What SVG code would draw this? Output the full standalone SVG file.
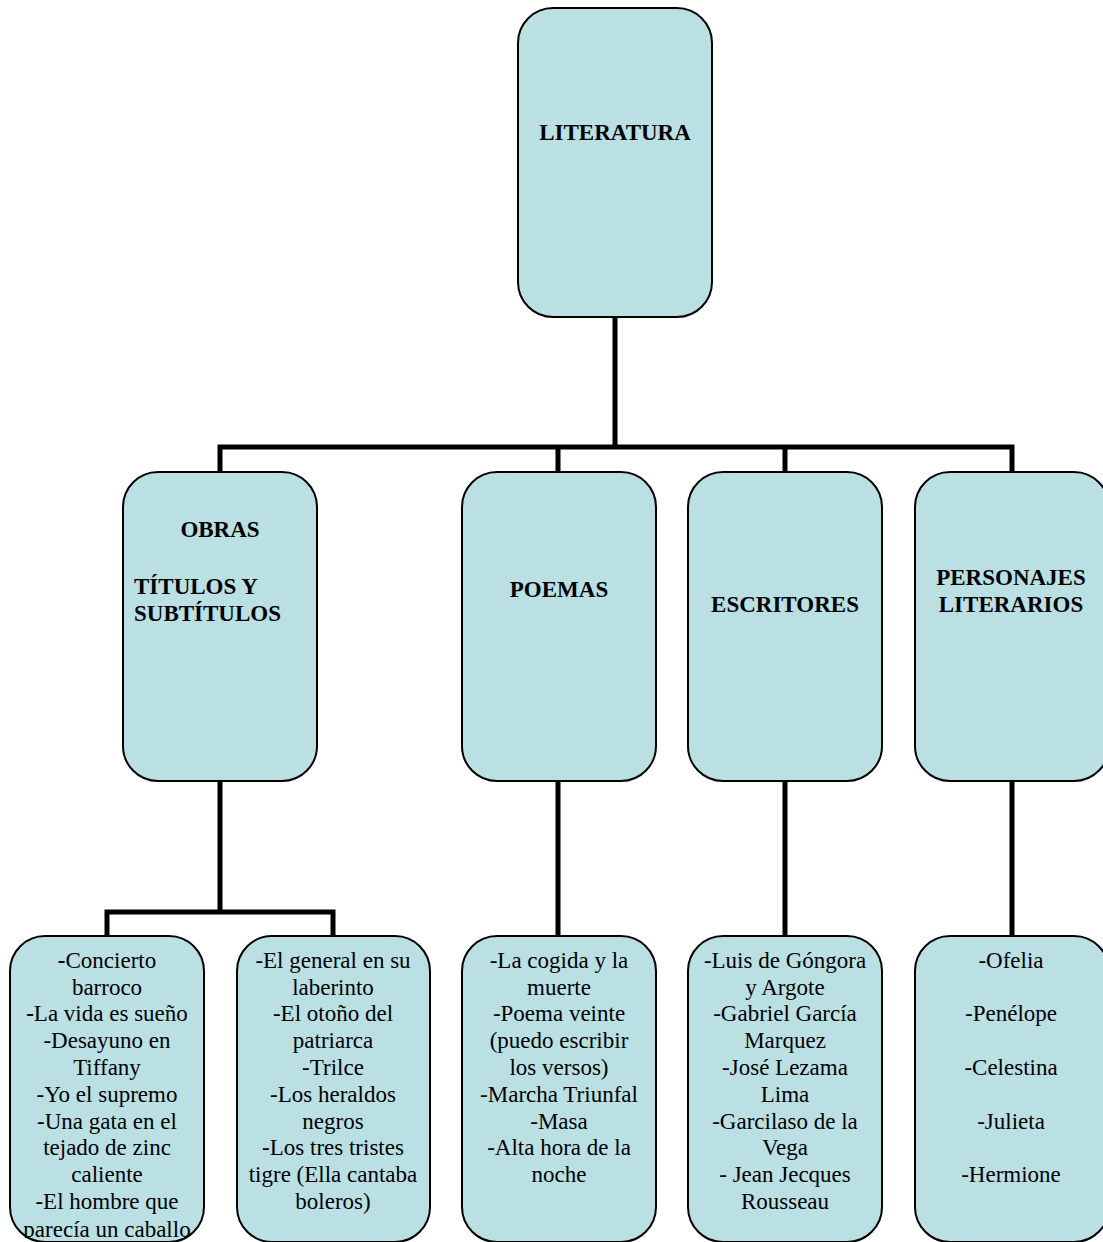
<svg xmlns="http://www.w3.org/2000/svg" width="1103" height="1242" viewBox="0 0 1103 1242">
<style>
.box{fill:#bbe0e3;stroke:#000;stroke-width:2}
.con{fill:none;stroke:#000;stroke-width:5;stroke-linejoin:miter;stroke-linecap:butt}
text{font-family:"Liberation Serif","Times New Roman",serif;fill:#000}
.h{font-size:23px;font-weight:bold}
.t{font-size:23px;text-anchor:middle}
.c{text-anchor:middle}
</style>
<defs>
<clipPath id="clipL"><rect x="10" y="936" width="194" height="302"/></clipPath>
</defs>
<rect width="1103" height="1242" fill="#fff"/>
<g id="connectors">
<path class="con" d="M615 317 V447 M220 472 V447 H1012 V472 M558 447 V472 M785 447 V472"/>
<path class="con" d="M220 781 V912 M107 937 V912 H333 V937"/>
<path class="con" d="M558 781 V937 M785 781 V937 M1012 781 V937"/>
</g>
<g id="literatura">
<rect class="box" x="518" y="8" width="194" height="309" rx="35"/>
<text class="h c" x="615" y="140">LITERATURA</text>
</g>
<g id="obras">
<rect class="box" x="123" y="472" width="194" height="309" rx="35"/>
<text class="h c" x="220" y="537" font-size="25">OBRAS</text>
<text class="h" x="134" y="594">TÍTULOS Y</text>
<text class="h" x="134" y="621">SUBTÍTULOS</text>
</g>
<g id="poemas">
<rect class="box" x="462" y="472" width="194" height="309" rx="35"/>
<text class="h c" x="559" y="597">POEMAS</text>
</g>
<g id="escritores">
<rect class="box" x="688" y="472" width="194" height="309" rx="35"/>
<text class="h c" x="785" y="612">ESCRITORES</text>
</g>
<g id="personajes">
<rect class="box" x="915" y="472" width="194" height="309" rx="35"/>
<text class="h c" x="1011" y="585">PERSONAJES</text>
<text class="h c" x="1011" y="612">LITERARIOS</text>
</g>
<g id="obras-lista-1">
<rect class="box" x="10" y="936" width="194" height="306" rx="35"/>
<text class="t" x="107" clip-path="url(#clipL)"><tspan x="107" y="968"><tspan font-weight="bold">-</tspan>Concierto</tspan><tspan x="107" y="995">barroco</tspan><tspan x="107" y="1021"><tspan font-weight="bold">-</tspan>La vida es sueño</tspan><tspan x="107" y="1048">-Desayuno en</tspan><tspan x="107" y="1075">Tiffany</tspan><tspan x="107" y="1102">-Yo el supremo</tspan><tspan x="107" y="1129">-Una gata en el</tspan><tspan x="107" y="1155">tejado de zinc</tspan><tspan x="107" y="1182">caliente</tspan><tspan x="107" y="1209">-El hombre que</tspan><tspan x="107" y="1237">parecía un caballo</tspan></text>
</g>
<g id="obras-lista-2">
<rect class="box" x="237" y="936" width="193" height="306" rx="35"/>
<text class="t" x="333"><tspan x="333" y="968">-El general en su</tspan><tspan x="333" y="995">laberinto</tspan><tspan x="333" y="1021">-El otoño del</tspan><tspan x="333" y="1048">patriarca</tspan><tspan x="333" y="1075">-Trilce</tspan><tspan x="333" y="1102">-Los heraldos</tspan><tspan x="333" y="1129">negros</tspan><tspan x="333" y="1155">-Los tres tristes</tspan><tspan x="333" y="1182">tigre (Ella cantaba</tspan><tspan x="333" y="1209">boleros)</tspan></text>
</g>
<g id="poemas-lista">
<rect class="box" x="462" y="936" width="194" height="306" rx="35"/>
<text class="t" x="559"><tspan x="559" y="968">-La cogida y la</tspan><tspan x="559" y="995">muerte</tspan><tspan x="559" y="1021">-Poema veinte</tspan><tspan x="559" y="1048">(puedo escribir</tspan><tspan x="559" y="1075">los versos)</tspan><tspan x="559" y="1102">-Marcha Triunfal</tspan><tspan x="559" y="1129">-Masa</tspan><tspan x="559" y="1155">-Alta hora de la</tspan><tspan x="559" y="1182">noche</tspan></text>
</g>
<g id="escritores-lista">
<rect class="box" x="688" y="936" width="194" height="306" rx="35"/>
<text class="t" x="785"><tspan x="785" y="968">-Luis de Góngora</tspan><tspan x="785" y="995">y Argote</tspan><tspan x="785" y="1021">-Gabriel García</tspan><tspan x="785" y="1048">Marquez</tspan><tspan x="785" y="1075">-José Lezama</tspan><tspan x="785" y="1102">Lima</tspan><tspan x="785" y="1129">-Garcilaso de la</tspan><tspan x="785" y="1155">Vega</tspan><tspan x="785" y="1182">- Jean Jecques</tspan><tspan x="785" y="1209">Rousseau</tspan></text>
</g>
<g id="personajes-lista">
<rect class="box" x="915" y="936" width="194" height="306" rx="35"/>
<text class="t" x="1011"><tspan x="1011" y="968">-Ofelia</tspan><tspan x="1011" y="1021">-Penélope</tspan><tspan x="1011" y="1075">-Celestina</tspan><tspan x="1011" y="1129">-Julieta</tspan><tspan x="1011" y="1182">-Hermione</tspan></text>
</g>
</svg>
